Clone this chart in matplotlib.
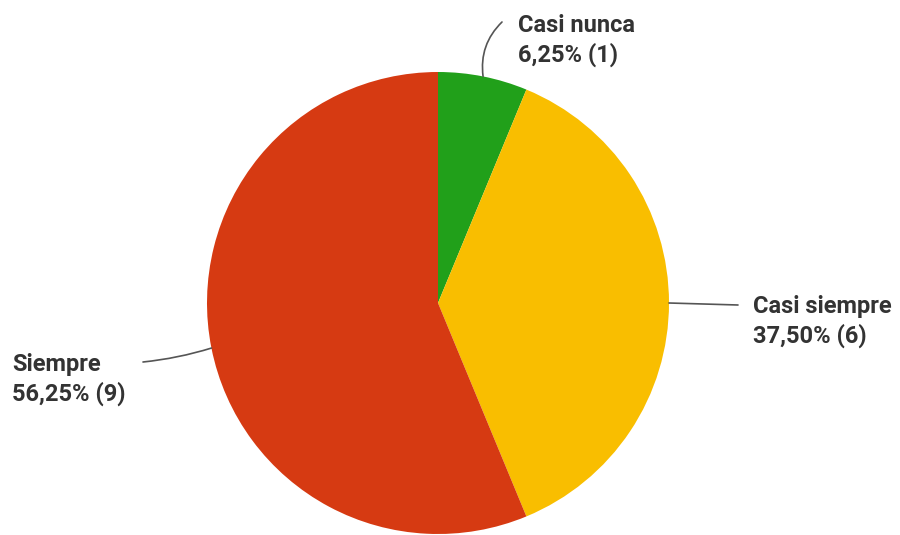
import numpy as np
import matplotlib
matplotlib.use("Agg")
import matplotlib.pyplot as plt

labels = ["Casi nunca", "Casi siempre", "Siempre"]
counts = [1, 6, 9]
percents = ["6,25%", "37,50%", "56,25%"]
colors = ["#21a01a", "#f9be00", "#d63a12"]

plt.rcParams["font.family"] = ["Roboto", "DejaVu Sans"]

W, H = 900, 535
fig = plt.figure(figsize=(9, 5.35), dpi=100)
ax = fig.add_axes([0, 0, 1, 1])

cx, cy, r = 438, H - 303, 231
wedges, _ = ax.pie(counts, colors=colors, startangle=90, counterclock=False,
                   center=(cx, cy), radius=r, frame=True,
                   wedgeprops=dict(linewidth=0))
ax.set_xlim(0, W)
ax.set_ylim(0, H)
ax.set_aspect("equal")
ax.axis("off")

# label positions (pixel coords from top-left; y = top of first line)
text_pos = [(518, 14), (753, 295), (12, 353)]
line_end = [(502, 22), (738, 305), (143, 362)]
rads = [0.25, 0.0, 0.05]

for w, lab, n, p, tp, le, rad in zip(wedges, labels, counts, percents, text_pos, line_end, rads):
    ang = np.deg2rad((w.theta1 + w.theta2) / 2)
    x0 = cx + r * np.cos(ang)
    y0 = cy + r * np.sin(ang)
    ax.annotate("", xy=(x0, y0), xytext=(le[0], H - le[1]),
                arrowprops=dict(arrowstyle="-", color="#555555", lw=1.2,
                                connectionstyle=f"arc3,rad={rad}",
                                shrinkA=0, shrinkB=0))
    ax.text(tp[0], H - tp[1], f"{lab}\n{p} ({n})", ha="left", va="top",
            fontsize=17, fontweight="bold", color="#333333", linespacing=1.3)

fig.savefig("out.png", dpi=100, facecolor="white")
